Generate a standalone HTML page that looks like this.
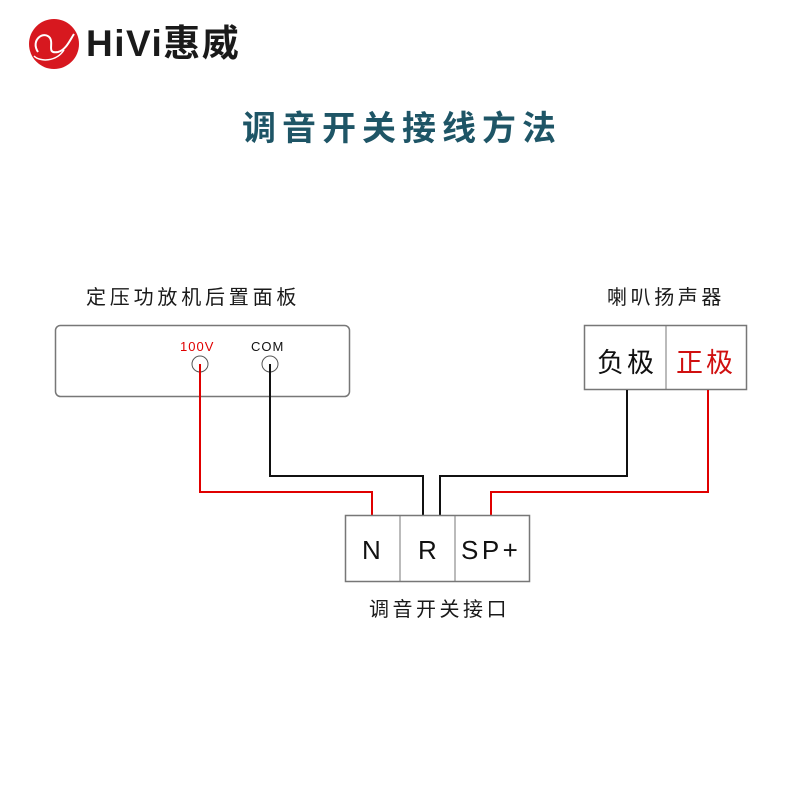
<!DOCTYPE html>
<html><head><meta charset="utf-8"><style>
html,body{margin:0;padding:0;background:#fff;}
body{width:800px;height:800px;position:relative;overflow:hidden;font-family:"Liberation Sans","Noto Sans CJK SC",sans-serif;}
.t{position:absolute;white-space:nowrap;}
</style></head><body>
<svg width="800" height="800" style="position:absolute;left:0;top:0">
  <circle cx="54" cy="44" r="25" fill="#d7181f"/>
  <path d="M38 52 C30 40 44 30 50 38 C54 44 46 54 58 52 C66 50 70 40 74 34" stroke="#fff" stroke-width="2" fill="none"/>
  <path d="M34 56 C40 62 56 62 64 50" stroke="#fff" stroke-width="1.5" fill="none"/>
  <rect x="55.5" y="325.5" width="294" height="71" rx="5" fill="#fff" stroke="#777" stroke-width="1.5"/>
  <circle cx="200" cy="364" r="8" fill="none" stroke="#555" stroke-width="1"/>
  <circle cx="270" cy="364" r="8" fill="none" stroke="#555" stroke-width="1"/>
  <rect x="584.5" y="325.5" width="162" height="64" fill="#fff" stroke="#777" stroke-width="1.5"/>
  <line x1="666" y1="326" x2="666" y2="389" stroke="#777" stroke-width="1"/>
  <polyline points="200,364 200,492 372,492 372,515" fill="none" stroke="#e00000" stroke-width="2"/>
  <polyline points="708,390 708,492 491,492 491,515" fill="none" stroke="#e00000" stroke-width="2"/>
  <polyline points="270,364 270,476 423,476 423,515" fill="none" stroke="#111" stroke-width="2"/>
  <polyline points="627,390 627,476 440,476 440,515" fill="none" stroke="#111" stroke-width="2"/>
  <rect x="345.5" y="515.5" width="184" height="66" fill="#fff" stroke="#777" stroke-width="1.5"/>
  <line x1="400" y1="516" x2="400" y2="581" stroke="#777" stroke-width="1"/>
  <line x1="455" y1="516" x2="455" y2="581" stroke="#777" stroke-width="1"/>
</svg>
<div class="t" style="left:86px;top:23px;font-size:37px;font-weight:bold;color:#1a1a1a;line-height:42px;letter-spacing:1.5px;">HiVi惠威</div>
<div class="t" style="left:242px;top:108px;font-size:34px;font-weight:bold;color:#1e5566;letter-spacing:6px;line-height:42px;">调音开关接线方法</div>
<div class="t" style="left:86px;top:281px;font-size:20px;color:#1a1a1a;letter-spacing:3.8px;">定压功放机后置面板</div>
<div class="t" style="left:607px;top:281px;font-size:20px;color:#1a1a1a;letter-spacing:3.6px;">喇叭扬声器</div>
<div class="t" style="left:180px;top:339px;font-size:13px;color:#e00000;letter-spacing:1px;">100V</div>
<div class="t" style="left:251px;top:339px;font-size:13px;color:#111;letter-spacing:1px;">COM</div>
<div class="t" style="left:597px;top:341px;font-size:27px;color:#111;letter-spacing:3px;">负极</div>
<div class="t" style="left:676px;top:341px;font-size:27px;color:#d01010;letter-spacing:3px;">正极</div>
<div class="t" style="left:362px;top:535px;font-size:26px;color:#111;">N</div>
<div class="t" style="left:418px;top:535px;font-size:26px;color:#111;">R</div>
<div class="t" style="left:461px;top:535px;font-size:26px;color:#111;letter-spacing:3.5px;">SP+</div>
<div class="t" style="left:369px;top:593px;font-size:20px;color:#1a1a1a;letter-spacing:3.5px;">调音开关接口</div>
</body></html>
